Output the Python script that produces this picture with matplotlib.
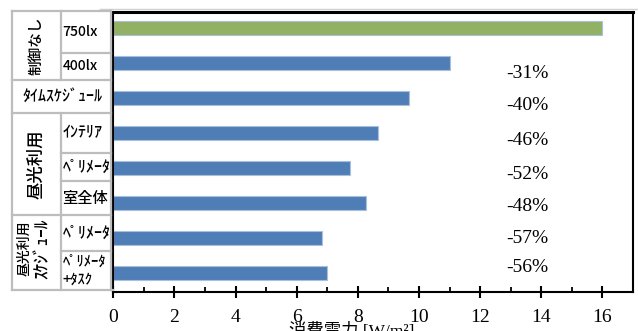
import matplotlib
matplotlib.use("Agg")
import matplotlib.pyplot as plt
from matplotlib.lines import Line2D
import numpy as np

# ---- data -------------------------------------------------------------
categories = ["750lx", "400lx", "ﾀｲﾑｽｹｼﾞｭｰﾙ", "ｲﾝﾃﾘｱ", "ﾍﾟﾘﾒｰﾀ", "室全体",
              "ﾍﾟﾘﾒｰﾀ", "ﾍﾟﾘﾒｰﾀ\n+ﾀｽｸ"]
power = [16.0, 11.02, 9.67, 8.65, 7.75, 8.27, 6.83, 6.98]   # W/m2
baseline = power[0]
bar_colors = ["#93B164"] + ["#4F7EB6"] * 7
xticks = [0, 2, 4, 6, 8, 10, 12, 14, 16]
xlabel = "消費電力 [W/m²]"

# ---- figure -----------------------------------------------------------
W, H = 638, 331
fig = plt.figure(figsize=(W / 100, H / 100), dpi=100)
fig.patch.set_facecolor("white")

def fx(x):
    return x / W

def fy(y):
    return 1 - y / H

ax_l, ax_r, ax_t, ax_b = 113.3, 633.0, 11.5, 291.7
ax = fig.add_axes([fx(ax_l), fy(ax_b), (ax_r - ax_l) / W, (ax_b - ax_t) / H])

ypos = np.arange(len(power))
ax.barh(ypos, power, height=0.4, color=bar_colors,
        edgecolor="#A9C0DC", linewidth=0.8)
ax.set_xlim(0, 17)
ax.set_ylim(7.52, -0.48)

serif = ["Liberation Serif", "Noto Sans CJK JP"]

# reduction labels relative to the uncontrolled case
label_shift = [0, 0.28, 0.19, 0.19, 0.16, 0.10, -0.01, -0.16]
for i in range(1, len(power)):
    pct = round((power[i] / baseline - 1) * 100)
    ax.text(13.55, ypos[i] + label_shift[i], f"-{abs(pct)}%",
            ha="center", va="center", fontsize=14, family=serif)

ax.set_xticks(xticks)
ax.set_xticklabels([str(t) for t in xticks], family=serif, fontsize=14)
ax.set_xticks(np.arange(1, 17, 2), minor=True)
ax.tick_params(axis="x", which="major", direction="inout", length=8.5,
               width=1.5, pad=8, colors="black")
ax.tick_params(axis="x", which="minor", direction="in", length=3.5,
               width=1.3, colors="black")

ax.set_yticks([])
ax.set_yticks(np.arange(0.5, 7.0, 1.0), minor=True)
ax.tick_params(axis="y", which="minor", direction="out", length=2.5,
               width=1.0, colors="#333333")

for side in ["left", "right", "bottom"]:
    ax.spines[side].set_color("black")
    ax.spines[side].set_linewidth(1.5)
ax.spines["top"].set_color("black")
ax.spines["top"].set_linewidth(2.2)

fig.text(fx(352), fy(323.5), xlabel, ha="center", va="top",
         fontsize=12.5, family=serif)

# faint frame line along the top of the chart area
fig.add_artist(Line2D([fx(100), fx(638)], [fy(9), fy(9)],
                      color="#D0D0D0", lw=1.0))

# ---- category table on the left ---------------------------------------
grid_c = "#BDBDBD"
lw = 1.6
x0, xm, x1 = 12, 61, 111
rows = [11, 53, 80, 113, 153, 181, 215, 251, 290]

def hline(y, xa, xb):
    fig.add_artist(Line2D([fx(xa), fx(xb)], [fy(y), fy(y)], color=grid_c, lw=lw))

def vline(x, ya, yb):
    fig.add_artist(Line2D([fx(x), fx(x)], [fy(ya), fy(yb)], color=grid_c, lw=lw))

hline(rows[0], x0, x1)
hline(rows[-1], x0, ax_l)
for y in (rows[2], rows[3], rows[6]):
    hline(y, x0, x1)
for y in (rows[1], rows[4], rows[5], rows[7]):
    hline(y, xm, x1)
vline(x0, rows[0], rows[-1])
vline(x1, rows[0], rows[-1])
vline(xm, rows[0], rows[2])
vline(xm, rows[3], rows[-1])

sans = ["Noto Sans CJK JP", "DejaVu Sans"]

# row labels in the right column
cell_sizes = {0: 10, 1: 10, 3: 11.5, 4: 11.5, 5: 11, 6: 11.5, 7: 10.5}
for r, fs in cell_sizes.items():
    yc = (rows[r] + rows[r + 1]) / 2
    fig.text(fx(62.5), fy(yc), categories[r], ha="left", va="center",
             fontsize=fs, family=sans, weight="medium", linespacing=1.35)

# spanning row
fig.text(fx((x0 + x1) / 2 + 1), fy((rows[2] + rows[3]) / 2), categories[2],
         ha="center", va="center", fontsize=11.5, family=sans, weight="medium")

# group labels in the left column (rotated)
xc = (x0 + xm) / 2
fig.text(fx(xc), fy((rows[0] + rows[2]) / 2), "制御なし", rotation=90,
         ha="center", va="center", fontsize=10.5, family=sans, weight="medium")
fig.text(fx(xc), fy((rows[3] + rows[6]) / 2), "昼光利用", rotation=90,
         ha="center", va="center", fontsize=12.5, family=sans, weight="medium")
yb = (rows[6] + rows[8]) / 2 - 4
fig.text(fx(24), fy(yb), "昼光利用", rotation=90,
         ha="center", va="center", fontsize=10, family=sans, weight="medium")
fig.text(fx(43), fy(yb), "ｽｹｼﾞｭｰﾙ", rotation=90,
         ha="center", va="center", fontsize=12.5, family=sans, weight="medium")

fig.savefig("out.png", dpi=100, facecolor="white")
